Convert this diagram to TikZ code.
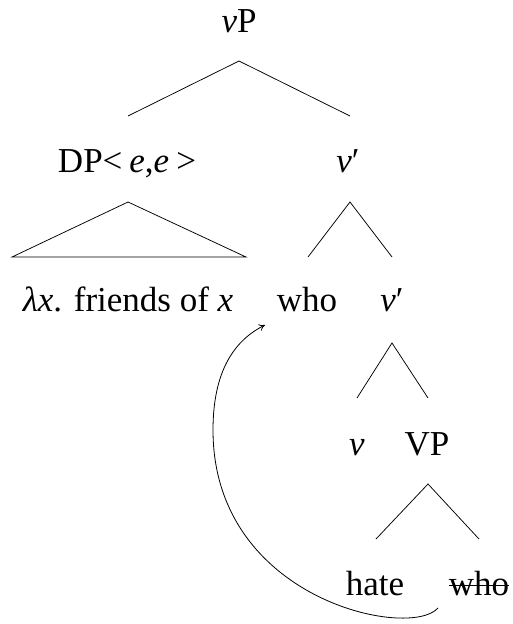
\documentclass[tikz,border=0pt]{standalone}
\usepackage{fontspec}
\setmainfont{Liberation Serif}
\usetikzlibrary{arrows.meta}
\begin{document}
\begin{tikzpicture}[x=1pt,y=-1pt,
  lbl/.style={anchor=base,inner sep=0pt,font=\fontsize{35}{40}\selectfont},
  branch/.style={line width=0.75pt},
  move/.style={line width=0.8pt,-{To[length=6pt,width=7pt]}}]
\useasboundingbox (0,0) rectangle (512,624);
\node[lbl] (vP) at (239,32) {\textit{v}P};
\node[lbl] (DP) at (127,172) {DP<\hspace{0.2em}\textit{e},\textit{e}\hspace{0.2em}>};
\node[lbl] (vbar1) at (348,172) {\textit{v}′};
\node[lbl] (lam) at (128,311) {\textit{λx}. friends of \textit{x}};
\node[lbl] (who) at (307,311) {who};
\node[lbl] (vbar2) at (392,311) {\textit{v}′};
\node[lbl] (v) at (357,455) {\textit{v}};
\node[lbl] (VP) at (427,455) {VP};
\node[lbl] (hate) at (375,595) {hate};
\node[lbl] (who2) at (479,595) {who};
% branches
\draw[branch] (128,116) -- (239,61) -- (350,116);
\draw[branch] (128,202) -- (12,257) -- (246,257) -- cycle;
\draw[branch] (308,257) -- (350,202) -- (392,257);
\draw[branch] (357,398) -- (392,343) -- (428,398);
\draw[branch] (376,539) -- (428,484) -- (479,539);
% strike-through
\draw[line width=0.9pt] (who2.west |- 0,585) -- (who2.east |- 0,585);
% movement arrow
\coordinate (mstart) at (438,608);
\coordinate (mleft) at (213,430);
\coordinate (mend) at (265,325);
\draw[move] (mstart) .. controls (410,640) and (213,600) .. (mleft)
  .. controls (213,370) and (235,340) .. (mend);
\end{tikzpicture}
\end{document}
